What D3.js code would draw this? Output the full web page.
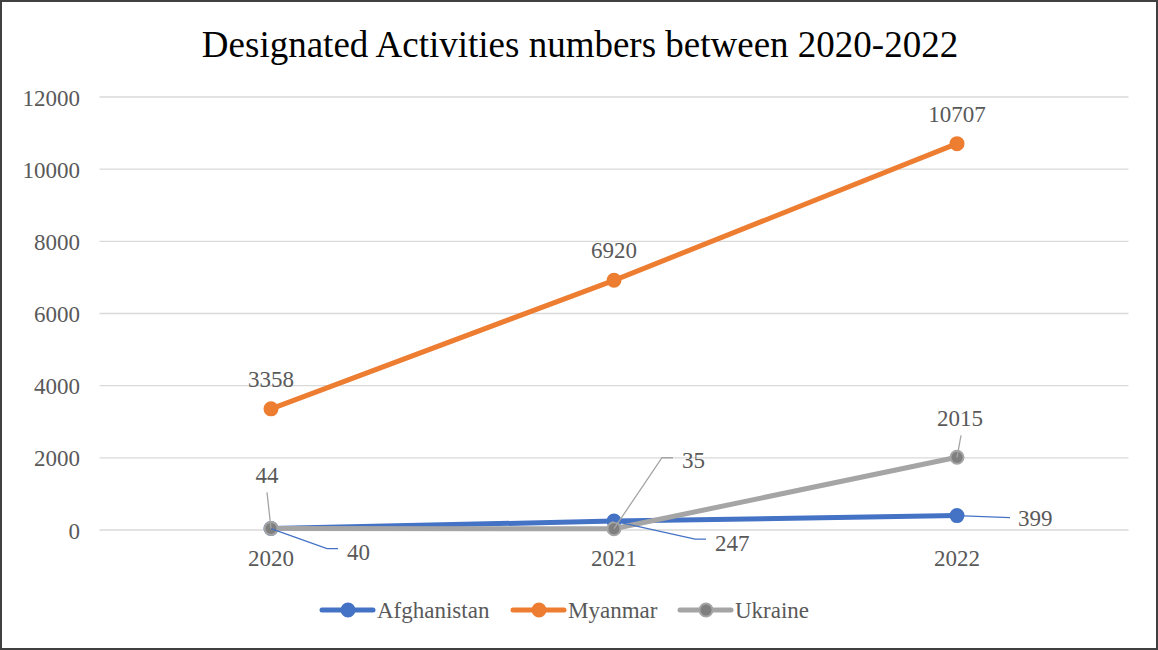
<!DOCTYPE html>
<html><head><meta charset="utf-8">
<script src="https://cdn.jsdelivr.net/npm/d3@7"></script>
<style>body{margin:0;background:#fff;}svg{display:block;}</style>
</head><body><svg id="c" width="1158" height="650"></svg>
<script>
const categories = ["2020", "2021", "2022"];
const seriesNames = ["Afghanistan", "Myanmar", "Ukraine"];
const afghanistan = [40, 247, 399];
const myanmar = [3358, 6920, 10707];
const ukraine = [44, 35, 2015];
const yTicks = [0, 2000, 4000, 6000, 8000, 10000, 12000];
const colors = ["#4472C4", "#ED7D31", "#A5A5A5"];
const title = "Designated Activities numbers between 2020-2022";

const svg = d3.select("#c");
const W = 1158, H = 650;
const font = "'Liberation Serif','Times New Roman',serif";
const txt = "#595959";
const fs = 23;

svg.append("rect").attr("x", 1).attr("y", 1).attr("width", W - 2).attr("height", H - 2)
  .attr("fill", "#fff").attr("stroke", "#404040").attr("stroke-width", 2);

const x = d3.scaleBand().domain(categories).range([99.5, 1128.5]);
const y = d3.scaleLinear().domain([0, 12000]).range([530, 97]);
const cx = c => x(c) + x.bandwidth() / 2;

svg.append("text").attr("x", 580).attr("y", 57).attr("text-anchor", "middle")
  .attr("font-family", font).attr("font-size", 37).attr("fill", "#000").text(title);

// grid
svg.append("g").selectAll("line").data(yTicks).join("line")
  .attr("x1", 99.5).attr("x2", 1128.5).attr("y1", d => y(d)).attr("y2", d => y(d))
  .attr("stroke", "#d9d9d9").attr("stroke-width", 1.3);

// y axis labels
const ya = svg.append("g").attr("transform", "translate(80,0)")
  .call(d3.axisLeft(y).tickValues(yTicks).tickSize(0).tickPadding(0).tickFormat(d3.format("d")));
ya.select(".domain").remove();
ya.selectAll("text").attr("font-family", font).attr("font-size", fs).attr("fill", txt).attr("dy", "0.35em");

// x axis labels
const xa = svg.append("g").attr("transform", "translate(0,545)")
  .call(d3.axisBottom(x).tickSize(0).tickPadding(0));
xa.select(".domain").remove();
xa.selectAll("text").attr("font-family", font).attr("font-size", fs).attr("fill", txt).attr("dy", "0.9em");

const data = [afghanistan, myanmar, ukraine];
const line = d3.line().x((d, i) => cx(categories[i])).y(d => y(d));
[0, 1, 2].forEach(s => {
  svg.append("path").datum(data[s]).attr("d", line).attr("fill", "none")
    .attr("stroke", colors[s]).attr("stroke-width", 5).attr("stroke-linecap", "round");
  svg.append("g").selectAll("circle").data(data[s]).join("circle")
    .attr("cx", (d, i) => cx(categories[i])).attr("cy", d => y(d)).attr("r", 6.5)
    .attr("fill", s === 2 ? "#7f7f7f" : colors[s]).attr("stroke", colors[s]).attr("stroke-width", 2);
});

// labels
const lab = svg.append("g").attr("font-family", font).attr("font-size", fs).attr("fill", txt);
myanmar.forEach((v, i) => {
  lab.append("text").attr("x", cx(categories[i])).attr("y", y(v) - 22).attr("text-anchor", "middle").text(v);
});
const afgLead = [[[56, 20], [67, 20]], [[81, 18], [92, 18]], [[53, 2]]];
const afgText = [[76, 24], [101, 22], [61, 3]];
afghanistan.forEach((v, i) => {
  const px = cx(categories[i]), py = y(v);
  const pts = [[px, py]].concat(afgLead[i].map(p => [px + p[0], py + p[1]]));
  lab.append("path").attr("d", d3.line()(pts)).attr("fill", "none").attr("stroke", colors[0]).attr("stroke-width", 1.3);
  lab.append("text").attr("x", px + afgText[i][0]).attr("y", py + afgText[i][1]).attr("text-anchor", "start").attr("dy", "0.33em").text(v);
});
const ukrLead = [[[-4, -36]], [[48, -71], [59, -71]], [[4, -22]]];
const ukrText = [[-4, -53, "middle"], [68, -68, "start"], [3, -39, "middle"]];
ukraine.forEach((v, i) => {
  const px = cx(categories[i]), py = y(v);
  const pts = [[px, py]].concat(ukrLead[i].map(p => [px + p[0], py + p[1]]));
  lab.append("path").attr("d", d3.line()(pts)).attr("fill", "none").attr("stroke", "#a5a5a5").attr("stroke-width", 1.3);
  lab.append("text").attr("x", px + ukrText[i][0]).attr("y", py + ukrText[i][1]).attr("text-anchor", ukrText[i][2]).attr("dy", "0.33em").text(v);
});

// legend
const legX = [322, 513, 680];
const lg = svg.append("g");
seriesNames.forEach((n, i) => {
  const g = lg.append("g").attr("transform", `translate(${legX[i]},610)`);
  g.append("line").attr("x1", 0).attr("x2", 51).attr("stroke", colors[i]).attr("stroke-width", 5).attr("stroke-linecap", "round");
  g.append("circle").attr("cx", 26).attr("r", 6.5).attr("fill", i === 2 ? "#7f7f7f" : colors[i]).attr("stroke", colors[i]).attr("stroke-width", 2);
  g.append("text").attr("x", 55).attr("dy", "0.33em").attr("font-family", font).attr("font-size", fs).attr("fill", txt).text(n);
});
</script></body></html>
